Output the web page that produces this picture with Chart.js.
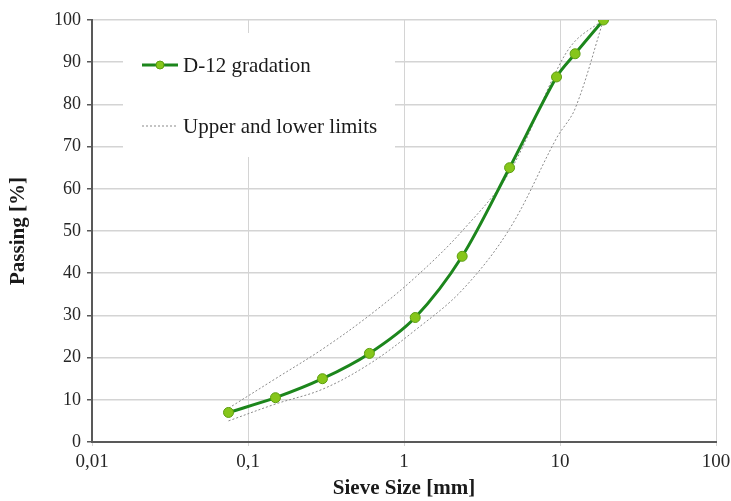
<!DOCTYPE html>
<html>
<head>
<meta charset="utf-8">
<script src="https://cdn.jsdelivr.net/npm/chart.js@4.4.0/dist/chart.umd.min.js"></script>
<style>
    html, body { margin: 0; padding: 0; background: #fff; }
    #wrap { width: 731px; height: 501px; }
</style>
</head>
<body>
<div id="wrap"><canvas id="graficoGradacao" width="731" height="501"></canvas></div>
<script>
// sieve sizes [mm] and passing [%]
const sieveSizes = [0.075, 0.15, 0.3, 0.6, 1.18, 2.36, 4.75, 9.5, 12.5, 19];
const gradationD12 = [7, 10.5, 15, 21, 29.5, 44, 65, 86.5, 92, 100];
const upperLimit = [8, 15, 22, 30, 39, 50, 64, 88, 95, 100];
const lowerLimit = [5, 9, 12.5, 18.5, 26.5, 36, 50.5, 72, 79, 100];

const xTicks = [0.01, 0.1, 1, 10, 100];
const yTicks = [0, 10, 20, 30, 40, 50, 60, 70, 80, 90, 100];

const serif = "'Liberation Serif', 'Times New Roman', serif";

function toPoints(values) {
    return sieveSizes.map((s, i) => ({ x: s, y: values[i] }));
}

// legend drawn inside the plot, on a white box (like the Excel one)
const legendInside = {
    id: 'legendInside',
    afterDatasetsDraw(chart) {
        const ctx = chart.ctx;
        const area = chart.chartArea;
        const ds = chart.data.datasets;
        const bx = area.left + 31, by = area.top + 13;
        ctx.save();
        ctx.fillStyle = '#ffffff';
        ctx.fillRect(bx, by, 272, 124);

        ctx.font = '21px ' + serif;
        ctx.textBaseline = 'middle';
        ctx.fillStyle = '#1a1a1a';

        // D-12 gradation
        let y = area.top + 45;
        ctx.strokeStyle = ds[0].borderColor;
        ctx.lineWidth = ds[0].borderWidth;
        ctx.beginPath();
        ctx.moveTo(area.left + 50, y);
        ctx.lineTo(area.left + 86, y);
        ctx.stroke();
        ctx.beginPath();
        ctx.arc(area.left + 68, y, 4, 0, Math.PI * 2);
        ctx.fillStyle = ds[0].pointBackgroundColor;
        ctx.fill();
        ctx.lineWidth = 1;
        ctx.strokeStyle = ds[0].pointBorderColor;
        ctx.stroke();
        ctx.fillStyle = '#1a1a1a';
        ctx.fillText(ds[0].label, area.left + 91, y + 1);

        // limits
        y = area.top + 106;
        ctx.strokeStyle = ds[1].borderColor;
        ctx.lineWidth = 1;
        ctx.setLineDash(ds[1].borderDash);
        ctx.beginPath();
        ctx.moveTo(area.left + 50, y);
        ctx.lineTo(area.left + 86, y);
        ctx.stroke();
        ctx.setLineDash([]);
        ctx.fillText(ds[1].label, area.left + 91, y + 1);
        ctx.restore();
    }
};

const ctx = document.getElementById('graficoGradacao').getContext('2d');
new Chart(ctx, {
    type: 'line',
    data: {
        datasets: [
            {
                label: 'D-12 gradation',
                data: toPoints(gradationD12),
                borderColor: '#1c861c',
                borderWidth: 3,
                pointBackgroundColor: '#86c61a',
                pointBorderColor: '#5c9e10',
                pointBorderWidth: 1,
                pointRadius: 5,
                tension: 0.3
            },
            {
                label: 'Upper and lower limits',
                data: toPoints(upperLimit),
                borderColor: '#8a8a8a',
                borderWidth: 1,
                borderDash: [2, 2],
                pointRadius: 0,
                tension: 0.35
            },
            {
                label: 'Lower limit',
                data: toPoints(lowerLimit),
                borderColor: '#8a8a8a',
                borderWidth: 1,
                borderDash: [2, 2],
                pointRadius: 0,
                tension: 0.35
            }
        ]
    },
    options: {
        responsive: false,
        animation: false,
        layout: { padding: { top: 20, right: 15, left: 0, bottom: 0 } },
        plugins: {
            legend: { display: false },
            tooltip: { enabled: false }
        },
        scales: {
            x: {
                type: 'logarithmic',
                min: 0.01,
                max: 100,
                afterBuildTicks: (scale) => { scale.ticks = xTicks.map(v => ({ value: v })); },
                afterFit: (scale) => {
                    scale.height = 59;
                    scale.paddingLeft = 0;
                    scale.paddingRight = 0;
                },
                ticks: {
                    autoSkip: false,
                    maxRotation: 0,
                    padding: 5,
                    color: '#262626',
                    font: { family: serif, size: 19 },
                    callback: (v) => String(v).replace('.', ',')
                },
                grid: { color: '#d4d4d4', lineWidth: 1, tickLength: 4, tickColor: '#d4d4d4' },
                border: { color: '#595959', width: 2 },
                title: {
                    display: true,
                    text: 'Sieve Size [mm]',
                    color: '#1a1a1a',
                    font: { family: serif, size: 21, weight: 'bold' },
                    padding: { top: 0, bottom: 0 }
                }
            },
            y: {
                min: 0,
                max: 100,
                afterBuildTicks: (scale) => { scale.ticks = yTicks.map(v => ({ value: v })); },
                afterFit: (scale) => { scale.width = 92; },
                ticks: {
                    padding: 6,
                    color: '#262626',
                    font: { family: serif, size: 18 }
                },
                grid: { color: '#d4d4d4', lineWidth: 1.5, tickLength: 5, tickColor: '#595959' },
                border: { color: '#595959', width: 2 },
                title: {
                    display: true,
                    text: 'Passing [%]',
                    color: '#1a1a1a',
                    font: { family: serif, size: 21, weight: 'bold' },
                    padding: { top: 6, bottom: 0 }
                }
            }
        }
    },
    plugins: [legendInside]
});
</script>
</body>
</html>
